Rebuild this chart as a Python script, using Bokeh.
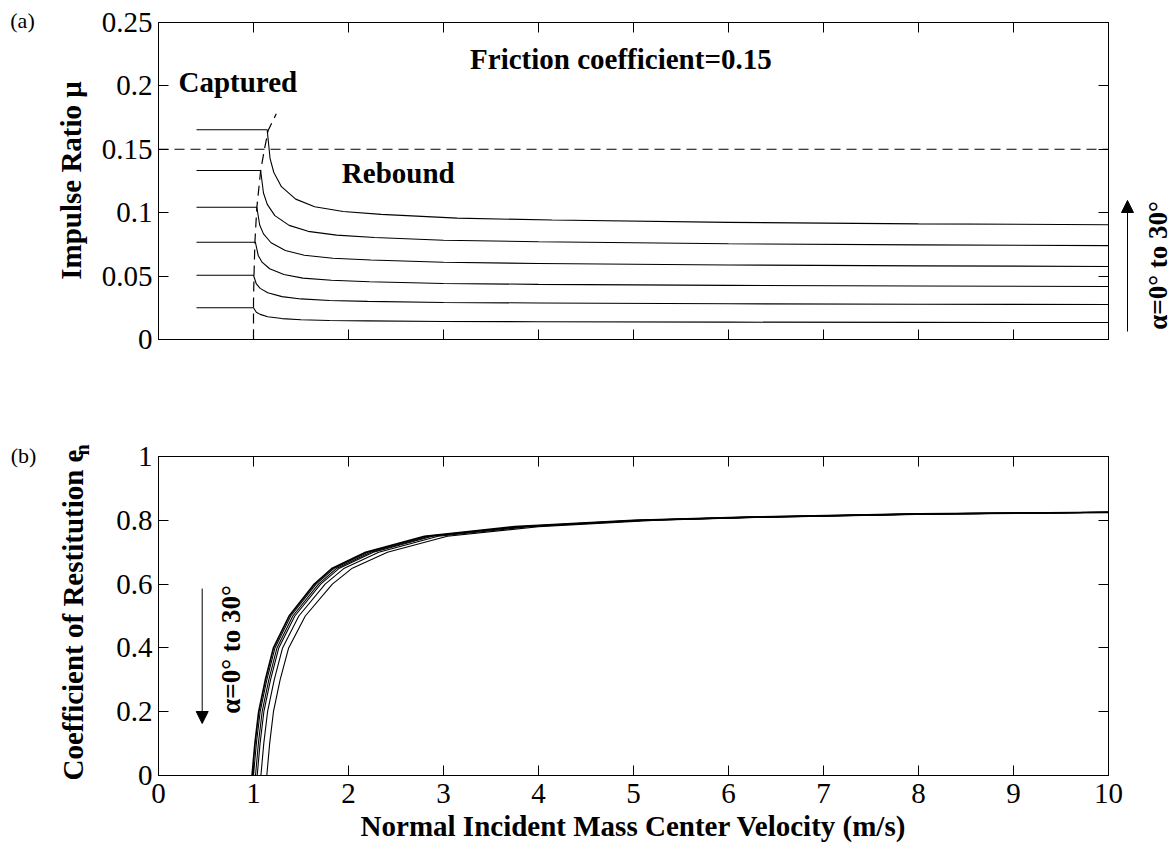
import math
from bokeh.plotting import figure
from bokeh.models import (Label, Arrow, NormalHead, LinearAxis, FixedTicker,
                          CustomJSTickFormatter, Range1d)
from bokeh.layouts import column, row
from bokeh.embed import file_html
from bokeh.resources import INLINE

# ---------------- data ----------------
x_ticks = [0, 1, 2, 3, 4, 5, 6, 7, 8, 9, 10]
mu_ticks = [0, 0.05, 0.1, 0.15, 0.2, 0.25]
en_ticks = [0, 0.2, 0.4, 0.6, 0.8, 1]

# (a) impulse ratio curves, alpha from small to 30 deg
mu1_x = [0.4, 1.0, 1.03, 1.07, 1.15, 1.3, 1.5, 1.8, 2.2, 3.0, 4.0, 6.0, 8.0, 10.0]
mu1_y = [0.025, 0.025, 0.0215, 0.0198, 0.0180, 0.0165, 0.0156, 0.0150, 0.0147, 0.0142, 0.0140, 0.0137, 0.0135, 0.0134]
mu2_x = [0.4, 1.0, 1.03, 1.07, 1.15, 1.3, 1.5, 1.8, 2.2, 3.0, 4.0, 6.0, 8.0, 10.0]
mu2_y = [0.0507, 0.0507, 0.0438, 0.0403, 0.0368, 0.0338, 0.0320, 0.0308, 0.0301, 0.0292, 0.0288, 0.0282, 0.0278, 0.0276]
mu3_x = [0.4, 1.02, 1.05, 1.09, 1.17, 1.32, 1.52, 1.82, 2.22, 3.0, 4.0, 6.0, 8.0, 10.0]
mu3_y = [0.0767, 0.0767, 0.0662, 0.0610, 0.0558, 0.0512, 0.0484, 0.0467, 0.0456, 0.0442, 0.0435, 0.0427, 0.0422, 0.0418]
mu4_x = [0.4, 1.035, 1.065, 1.105, 1.185, 1.335, 1.535, 1.835, 2.235, 3.0, 4.0, 6.0, 8.0, 10.0]
mu4_y = [0.1043, 0.1043, 0.0903, 0.0833, 0.0763, 0.0702, 0.0665, 0.0641, 0.0627, 0.0609, 0.0599, 0.0588, 0.0581, 0.0576]
mu5_x = [0.4, 1.075, 1.105, 1.145, 1.225, 1.375, 1.575, 1.875, 2.275, 3.0, 4.0, 6.0, 8.0, 10.0]
mu5_y = [0.1333, 0.1333, 0.1155, 0.1066, 0.0977, 0.0900, 0.0853, 0.0823, 0.0805, 0.0783, 0.0771, 0.0755, 0.0746, 0.0740]
mu6_x = [0.4, 1.144, 1.174, 1.214, 1.294, 1.444, 1.644, 1.944, 2.344, 3.144, 4.144, 6.0, 8.0, 10.0]
mu6_y = [0.1654, 0.1654, 0.1429, 0.1317, 0.1205, 0.1107, 0.1047, 0.1010, 0.0987, 0.0957, 0.0942, 0.0924, 0.0912, 0.0905]

# capture / rebound boundary (dashed)
boundary_x = [1.0, 1.0, 1.005, 1.015, 1.035, 1.075, 1.115, 1.155, 1.24]
boundary_mu = [0.0, 0.03, 0.05, 0.077, 0.104, 0.133, 0.15, 0.165, 0.178]

# friction coefficient line
friction_x = [0, 10]
friction_mu = [0.15, 0.15]

# (b) coefficient of restitution curves (x read at given e levels)
en_levels = [0, 0.1, 0.2, 0.3, 0.4, 0.5, 0.6, 0.65, 0.7, 0.75, 0.78, 0.8, 0.81, 0.82, 0.825]
en0_x = [0.985, 1.015, 1.055, 1.125, 1.21, 1.375, 1.64, 1.83, 2.18, 2.8, 3.75, 5.0, 6.2, 8.0, 10.0]
en1_x = [1.0, 1.03, 1.07, 1.14, 1.226, 1.392, 1.659, 1.851, 2.203, 2.824, 3.775, 5.025, 6.225, 8.025, 10.0]
en2_x = [1.021, 1.051, 1.091, 1.161, 1.247, 1.414, 1.684, 1.878, 2.233, 2.855, 3.808, 5.058, 6.258, 8.058, 10.0]
en3_x = [1.039, 1.069, 1.109, 1.179, 1.266, 1.435, 1.707, 1.904, 2.261, 2.884, 3.838, 5.088, 6.288, 8.088, 10.0]
en4_x = [1.078, 1.108, 1.148, 1.218, 1.306, 1.477, 1.754, 1.956, 2.318, 2.944, 3.9, 5.15, 6.35, 8.15, 10.0]
en5_x = [1.14, 1.17, 1.21, 1.28, 1.37, 1.545, 1.83, 2.04, 2.41, 3.04, 4.0, 5.25, 6.45, 8.25, 10.0]

SERIF = "Liberation Serif"
FMT = CustomJSTickFormatter(code="return String(Number(tick.toFixed(4)));")

LEFT_W = 95     # left strip with panel tags and y titles
RIGHT_W = 55    # right strip of panel (a)
H1 = 389
H2 = 466


def style_axis(ax, ticks, show_labels):
    ax.ticker = FixedTicker(ticks=ticks)
    ax.major_tick_in = 10
    ax.major_tick_out = 0
    ax.minor_tick_line_color = None
    ax.axis_line_color = "black"
    ax.major_tick_line_color = "black"
    ax.formatter = FMT
    if show_labels:
        ax.major_label_text_font = SERIF
        ax.major_label_text_font_size = "29px"
        ax.major_label_text_color = "black"
        ax.major_label_standoff = 6
    else:
        ax.major_label_text_font_size = "1px"
        ax.major_label_text_color = None
        ax.major_label_standoff = 0


def make_fig(yr, w, h, left, right, top, bottom):
    p = figure(width=w, height=h, x_range=Range1d(0, 10), y_range=yr,
               output_backend="svg", toolbar_location=None,
               min_border_left=left, min_border_right=right,
               min_border_top=top, min_border_bottom=bottom)
    p.frame_align = False
    p.grid.visible = False
    p.outline_line_color = "black"
    p.background_fill_color = "white"
    p.border_fill_color = "white"
    return p


def strip(w, h):
    s = figure(width=w, height=h, x_range=Range1d(0, w), y_range=Range1d(h, 0),
               output_backend="svg", toolbar_location=None, min_border=0,
               x_axis_location=None, y_axis_location=None, title=None)
    s.frame_align = False
    s.grid.visible = False
    s.outline_line_color = None
    s.background_fill_color = "white"
    s.border_fill_color = "white"
    return s


def lbl(p, x, y, text, size="29px", bold=True, angle=0.0, align="left", baseline="middle"):
    p.add_layout(Label(x=x, y=y, text=text, angle=angle, text_align=align,
                       text_baseline=baseline, text_font=SERIF,
                       text_font_style="bold" if bold else "normal",
                       text_font_size=size, text_color="black"))


# ---------------- panel (a) ----------------
p1 = make_fig(Range1d(0, 0.25), 1173 - LEFT_W - RIGHT_W, H1, 63, 10, 22, 50)
ax1_b = p1.below[0]
ax1_l = p1.left[0]
style_axis(ax1_b, x_ticks, False)
style_axis(ax1_l, mu_ticks, True)
ax1_t = LinearAxis()
p1.add_layout(ax1_t, "above")
style_axis(ax1_t, x_ticks, False)
ax1_r = LinearAxis()
p1.add_layout(ax1_r, "right")
style_axis(ax1_r, mu_ticks, False)

for xs, ys in [(mu1_x, mu1_y), (mu2_x, mu2_y), (mu3_x, mu3_y),
               (mu4_x, mu4_y), (mu5_x, mu5_y), (mu6_x, mu6_y)]:
    p1.line(xs, ys, line_color="black", line_width=1.1)

p1.line(boundary_x, boundary_mu, line_color="black", line_width=1.2, line_dash="10 6")
p1.line(friction_x, friction_mu, line_color="black", line_width=1.1, line_dash="10 6")

lbl(p1, 0.21, 0.2027, "Captured")
lbl(p1, 3.28, 0.2216, "Friction coefficient=0.15")
lbl(p1, 1.93, 0.1312, "Rebound")

# left strip (a)
sa_l = strip(LEFT_W, H1)
lbl(sa_l, 22, 20, "(a)", size="22px", bold=False, align="center")
lbl(sa_l, 70, 180, "Impulse Ratio μ", angle=math.pi / 2, align="center")

# right strip (a)
sa_r = strip(RIGHT_W, H1)
sa_r.add_layout(Arrow(end=NormalHead(size=12, fill_color="black", line_color="black"),
                      x_start=9, y_start=331, x_end=9, y_end=200,
                      line_color="black", line_width=1))
lbl(sa_r, 39, 265, "α=0° to 30°", size="27px", angle=math.pi / 2, align="center")

# ---------------- panel (b) ----------------
p2 = make_fig(Range1d(0, 1), 1173 - LEFT_W, H2, 63, 65, 67, 80)
ax2_b = p2.below[0]
ax2_l = p2.left[0]
style_axis(ax2_b, x_ticks, True)
ax2_b.major_label_standoff = 8
style_axis(ax2_l, en_ticks, True)
ax2_t = LinearAxis()
p2.add_layout(ax2_t, "above")
style_axis(ax2_t, x_ticks, False)
ax2_r = LinearAxis()
p2.add_layout(ax2_r, "right")
style_axis(ax2_r, en_ticks, False)

ax2_b.axis_label = "Normal Incident Mass Center Velocity (m/s)"
ax2_b.axis_label_text_font = SERIF
ax2_b.axis_label_text_font_style = "bold"
ax2_b.axis_label_text_font_size = "29px"
ax2_b.axis_label_text_color = "black"
ax2_b.axis_label_standoff = 4

widths = [1.7, 1.1, 1.1, 1.1, 1.1, 1.1]
for xs, w in zip([en0_x, en1_x, en2_x, en3_x, en4_x, en5_x], widths):
    p2.line(xs, en_levels, line_color="black", line_width=w)

p2.add_layout(Arrow(end=NormalHead(size=12, fill_color="black", line_color="black"),
                    x_start=0.46, y_start=0.586, x_end=0.46, y_end=0.163,
                    line_color="black", line_width=1))
lbl(p2, 0.768, 0.395, "α=0° to 30°", size="27px", angle=math.pi / 2, align="center")

# left strip (b)
sb_l = strip(LEFT_W, H2)
lbl(sb_l, 23, 66, "(b)", size="22px", bold=False, align="center")
lbl(sb_l, 72, 391, "Coefficient of Restitution e", angle=math.pi / 2, align="left")
lbl(sb_l, 81, 66, "n", size="20px", angle=math.pi / 2, align="left")

layout = column(row(sa_l, p1, sa_r, spacing=0), row(sb_l, p2, spacing=0), spacing=0)
open("out.html", "w").write(file_html(layout, INLINE))
